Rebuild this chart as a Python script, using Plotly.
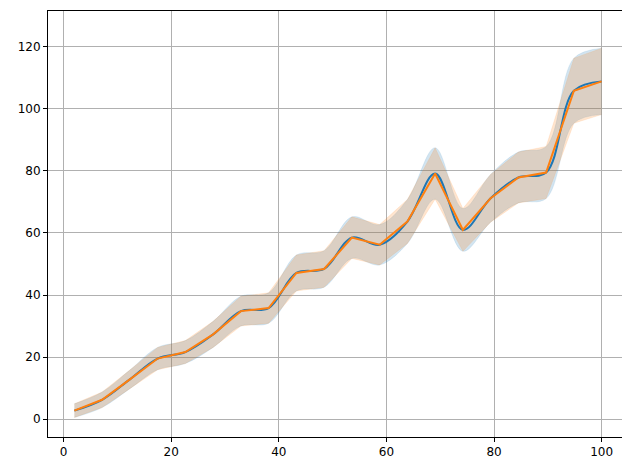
import plotly.graph_objects as go
import numpy as np

x = np.linspace(2, 100, 20)
y = [2.7, 6.2, 12.8, 19.5, 21.6, 27.3, 34.8, 35.8, 47.1, 48.4,
     58.5, 56.2, 63.7, 79.2, 61.0, 71.2, 77.9, 79.5, 105.9, 108.9]
err = [2.2, 2.5, 3.0, 3.6, 3.7, 4.2, 4.8, 4.9, 5.8, 5.9,
       6.7, 6.5, 7.1, 8.3, 6.9, 7.7, 8.2, 8.4, 10.5, 10.7]
y_lo = [v - e for v, e in zip(y, err)]
y_hi = [v + e for v, e in zip(y, err)]

blue = "#1f77b4"
orange = "#ff7f0e"

fig = go.Figure()
# shaded bands
for shape, col in [("spline", "rgba(31,119,180,0.2)"), ("linear", "rgba(255,127,14,0.2)")]:
    fig.add_trace(go.Scatter(x=x, y=y_lo, mode="lines", line=dict(width=0.5, shape=shape, color=col),
                             showlegend=False, hoverinfo="skip"))
    fig.add_trace(go.Scatter(x=x, y=y_hi, mode="lines", line=dict(width=0.5, shape=shape, color=col),
                             fill="tonexty", fillcolor=col, showlegend=False, hoverinfo="skip"))
fig.add_trace(go.Scatter(x=x, y=y, mode="lines", line=dict(color=blue, width=2, shape="spline", smoothing=1.0),
                         showlegend=False))
fig.add_trace(go.Scatter(x=x, y=y, mode="lines", line=dict(color=orange, width=2), showlegend=False))

axis = dict(showgrid=True, gridcolor="#b0b0b0", gridwidth=1, zeroline=False, showline=True, mirror=True,
            linecolor="black", linewidth=1, ticks="outside", ticklen=4, tickcolor="black",
            tickfont=dict(family="DejaVu Sans", size=12, color="black"))
fig.update_xaxes(range=[-2.9, 104.9], tickvals=[0, 20, 40, 60, 80, 100], **axis)
fig.update_yaxes(range=[-5.8, 131.6], tickvals=[0, 20, 40, 60, 80, 100, 120], **axis)
fig.update_layout(width=630, height=470, margin=dict(l=40, r=10, t=3, b=41),
                  plot_bgcolor="white", paper_bgcolor="white")
fig.write_html("out.html")
